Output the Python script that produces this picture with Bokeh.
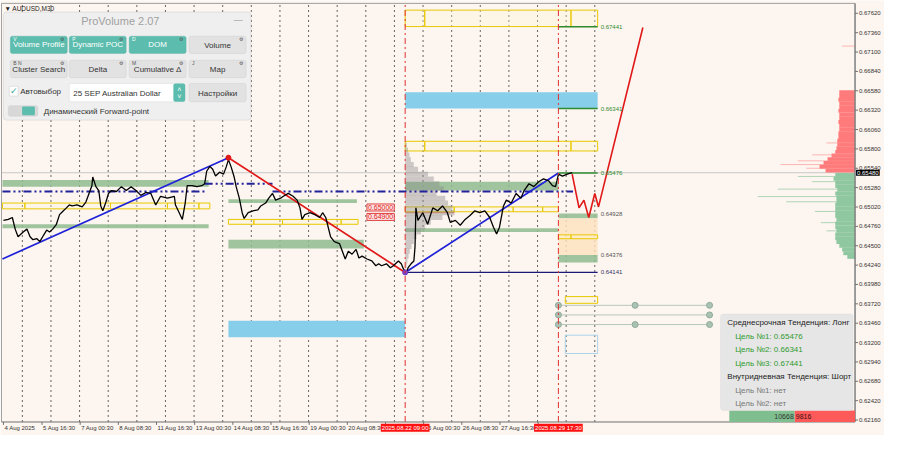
from bokeh.plotting import figure
from bokeh.models import Range1d, BoxAnnotation, Label
from bokeh.embed import file_html
from bokeh.resources import INLINE

# ====================== DATA (x = trading days since Mon 4 Aug 2025 00:00) ======================
price_day = [0.34,0.51,0.65,0.75,0.85,1.03,1.16,1.27,1.37,1.51,
             1.61,1.71,1.85,1.95,2.06,2.19,2.30,2.40,2.54,2.64,
             2.74,2.91,3.09,3.22,3.33,3.43,3.46,3.57,3.67,3.74,
             3.81,3.91,4.01,4.11,4.29,4.46,4.63,4.80,4.97,5.14,
             5.32,5.49,5.66,5.83,6.07,6.31,6.35,6.48,6.59,6.69,
             6.76,6.93,7.10,7.27,7.37,7.44,7.55,7.65,7.75,7.89,
             8.03,8.13,8.20,8.30,8.40,8.47,8.58,8.68,8.75,8.89,
             9.06,9.23,9.33,9.50,9.61,9.74,9.85,10.02,10.12,10.29,
             10.46,10.60,10.70,10.77,10.87,11.05,11.22,11.39,11.49,11.60,
             11.66,11.77,11.90,12.08,12.18,12.28,12.39,12.52,12.66,12.76,
             12.87,13.04,13.21,13.35,13.45,13.55,13.72,13.86,13.96,14.14,
             14.24,14.31,14.41,14.48,14.58,14.68,14.72,14.75,14.82,14.99,
             15.16,15.34,15.51,15.68,15.85,15.95,16.13,16.30,16.47,16.64,
             16.81,16.98,17.16,17.33,17.46,17.57,17.67,17.81,17.91,18.08,
             18.25,18.42,18.53,18.70,18.87,19.04,19.21,19.39,19.52,19.63,
             19.73,19.87,20.04,20.21]
price_close = [0.64840,0.64853,0.64879,0.64723,0.64620,0.64684,0.64723,0.64620,0.64581,0.64594,
               0.64555,0.64620,0.64710,0.64684,0.64723,0.64788,0.64918,0.64956,0.65008,0.65047,
               0.65034,0.65047,0.65021,0.65086,0.65202,0.65306,0.65423,0.65293,0.65241,0.65034,
               0.64969,0.65073,0.65202,0.65241,0.65228,0.65293,0.65241,0.65293,0.65241,0.65176,
               0.65215,0.65202,0.65047,0.65164,0.65138,0.65164,0.65047,0.64943,0.64853,0.65073,
               0.65306,0.65306,0.65293,0.65306,0.65332,0.65500,0.65565,0.65526,0.65435,0.65487,
               0.65461,0.65565,0.65656,0.65552,0.65423,0.65293,0.65138,0.64943,0.64866,0.64943,
               0.64969,0.64982,0.65034,0.65073,0.65138,0.65202,0.65112,0.65138,0.65164,0.65202,
               0.65164,0.65112,0.65008,0.64853,0.64918,0.64943,0.64918,0.64879,0.64943,0.64879,
               0.64788,0.64620,0.64555,0.64529,0.64426,0.64322,0.64426,0.64387,0.64451,0.64335,
               0.64361,0.64322,0.64296,0.64231,0.64257,0.64231,0.64257,0.64205,0.64231,0.64296,
               0.64257,0.64192,0.64141,0.64205,0.64257,0.64296,0.64490,0.65008,0.64840,0.64943,
               0.64788,0.65008,0.64969,0.65034,0.64943,0.64814,0.64840,0.64775,0.64853,0.64905,
               0.64969,0.64943,0.64969,0.64879,0.64749,0.64659,0.64749,0.65034,0.65112,0.65073,
               0.65202,0.65138,0.65241,0.65332,0.65293,0.65358,0.65397,0.65371,0.65306,0.65293,
               0.65461,0.65435,0.65461,0.65480]
last_price = 0.65480

x_tick_day = [0.34, 1.6875, 3.0208, 4.354, 5.6875, 7.0208, 8.354, 9.6875, 11.0208, 12.354,
              13.6875, 15.0208, 16.354, 17.6875, 19.0208]
x_tick_label = ["4 Aug 2025", "5 Aug 16:30", "7 Aug 00:30", "8 Aug 08:30", "11 Aug 16:30",
                "13 Aug 00:30", "14 Aug 08:30", "15 Aug 16:30", "19 Aug 00:30", "20 Aug 08:30",
                "21 Aug 16:30", "25 Aug 00:30", "26 Aug 08:30", "27 Aug 16:30", "29 Aug 00:30"]
y_tick_price = [0.62160, 0.62420, 0.62680, 0.62940, 0.63200, 0.63460, 0.63720, 0.63980, 0.64240,
                0.64500, 0.64760, 0.65020, 0.65280, 0.65540, 0.65800, 0.66060, 0.66320, 0.66580,
                0.66840, 0.67100, 0.67360, 0.67620]
day_separator = [1, 2, 3, 4, 5, 6, 7, 8, 9, 10, 11, 12, 13, 14, 15, 16, 17, 18, 19, 20, 21]

event_day = [14.375, 19.729]
event_label = ["2025.08.22 09:00", "2025.08.29 17:30"]

green_left = [0.305, 0.305, 8.20, 8.20, 14.375, 14.375, 19.73, 19.73]
green_right = [7.51, 7.51, 12.69, 12.93, 19.73, 19.73, 21.10, 21.10]
green_top = [0.65384, 0.64788, 0.65123, 0.64581, 0.65358, 0.64736, 0.64931, 0.64374]
green_bot = [0.65293, 0.64736, 0.65073, 0.64464, 0.65241, 0.64684, 0.64870, 0.64274]

peach_left, peach_right, peach_top, peach_bot = [19.73], [21.10], [0.64870], [0.64374]

blue_left = [14.375, 8.20]
blue_right = [21.10, 14.375]
blue_top = [0.66562, 0.63493]
blue_bot = [0.66342, 0.63273]

yellow_left = [0.305, 1.09, 4.08, 6.07, 7.17,
               8.20, 9.09, 10.09, 12.14,
               14.375, 16.09, 18.15, 19.18,
               14.375, 15.06, 20.17,
               14.375, 15.06, 20.17,
               19.73, 20.17,
               19.97]
yellow_right = [1.09, 4.08, 6.07, 7.17, 7.55,
                9.09, 10.09, 12.14, 12.73,
                16.09, 18.15, 19.18, 19.73,
                15.06, 20.17, 21.10,
                15.06, 20.17, 21.10,
                20.17, 21.10,
                21.10]
yellow_top = [0.65073]*5 + [0.64853]*4 + [0.65021]*4 + [0.67663]*3 + [0.65902]*3 + [0.64646]*2 + [0.63817]
yellow_bot = [0.64995]*5 + [0.64788]*4 + [0.64956]*4 + [0.67442]*3 + [0.65772]*3 + [0.64594]*2 + [0.63727]

lblue_left, lblue_right, lblue_top, lblue_bot = [19.97], [21.10], [0.63299], [0.63053]

trend_up1_day, trend_up1_price = [0.305, 8.20], [0.64322, 0.65682]
trend_dn_day, trend_dn_price = [8.20, 14.375], [0.65682, 0.64141]
trend_up2_day, trend_up2_price = [14.375, 19.73], [0.64141, 0.65476]

poc_days = [[0.305, 7.37], [7.37, 9.74], [9.74, 20.24]]
poc_prices = [[0.65228, 0.65228], [0.65332, 0.65332], [0.65228, 0.65228]]

proj_day = [20.21, 20.45, 20.62, 20.79, 21.00, 21.13, 22.68]
proj_price = [0.65461, 0.65008, 0.65112, 0.64879, 0.65202, 0.65021, 0.67430]

target_price = [0.67441, 0.66341, 0.65476, 0.64928, 0.64376, 0.64141]
target_color = ["#2e8b2e", "#2e8b2e", "#2e8b2e", "#555555", "#555555", "#333366"]
target_from, target_to = 19.73, 21.10

round_levels = [0.65000, 0.64900]
round_label_day = 13.04

circ_day = [19.73, 19.73, 19.73, 22.41, 22.41, 25.01, 25.01, 25.01]
circ_price = [0.63700, 0.63571, 0.63442, 0.63700, 0.63442, 0.63700, 0.63571, 0.63442]

vp_price = [0.65850,0.65785,0.65720,0.65656,0.65591,0.65526,0.65461,0.65397,0.65332,0.65267,
            0.65202,0.65138,0.65073,0.65008,0.64943,0.64879,0.64814,0.64749,0.64684,0.64620,
            0.64555,0.64490,0.64426,0.64361,0.64296,0.64231]
vp_size = [0.06,0.10,0.15,0.20,0.30,0.45,0.80,1.00,1.20,1.35,
           1.10,1.40,1.50,1.65,1.72,1.30,0.90,0.70,0.55,0.40,
           0.30,0.22,0.16,0.12,0.08,0.05]

dom_ask_price = [0.66560,0.66510,0.66460,0.66410,0.66360,0.66310,0.66260,0.66210,0.66160,0.66110,
                 0.66060,0.66010,0.65960,0.65910,0.65860,0.65810,0.65760,0.65710,0.65660,0.65610,
                 0.65560,0.65510]
dom_ask_size = [0.55,0.55,0.58,0.55,0.55,0.58,0.55,0.55,0.58,0.55,
                0.55,0.58,0.58,0.62,0.62,0.65,0.69,0.82,0.96,1.10,
                1.24,1.03]
dom_bid_price = [0.65450,0.65400,0.65350,0.65300,0.65250,0.65200,0.65150,0.65100,0.65050,0.65000,
                 0.64950,0.64900,0.64850,0.64800,0.64750,0.64700,0.64650,0.64600,0.64550,0.64500,
                 0.64450,0.64400,0.64350]
dom_bid_size = [0.69,0.75,0.69,0.69,0.62,0.69,0.65,0.65,0.69,0.69,
                0.69,0.69,0.65,0.69,0.69,0.65,0.69,0.69,0.65,0.55,
                0.45,0.41,0.27]
dom_ask_thin_price = [0.65880, 0.65720, 0.65640, 0.65590, 0.65540, 0.67180]
dom_ask_thin_len = [1.0, 1.5, 2.0, 2.6, 1.7, 0.45]
dom_bid_thin_price = [0.65430, 0.65360, 0.65260, 0.65160, 0.65090, 0.64960, 0.64810, 0.64700]
dom_bid_thin_len = [2.0, 1.5, 2.7, 3.4, 2.4, 1.4, 1.2, 1.0]

vol_buy, vol_sell = 10668, 9816


# ---------- mapping of the reference screen layout (used for overlays / frame only) ----------
def X(px):
    return (px + 6.9) / 29.14


def Y(py):
    return 0.67792 - 0.00012948 * py


BG = "#fdf5ef"
FONT = "Liberation Sans"
CH_L, CH_R, CH_T, CH_B = X(1), X(870), Y(3), Y(437)   # chart area inside the canvas

p = figure(width=884, height=435, output_backend="svg", toolbar_location=None,
           x_range=Range1d(X(0), X(900)), y_range=Range1d(Y(451), Y(0)),
           x_axis_location=None, y_axis_location=None,
           min_border_left=0, min_border_top=0, min_border_right=0, min_border_bottom=0,
           background_fill_color=BG, border_fill_color=BG)
p.outline_line_color = None
p.grid.visible = False

# day separators (dotted)
p.segment(x0=day_separator, y0=CH_B, x1=day_separator, y1=CH_T,
          line_color="#333333", line_alpha=0.75, line_dash="2 3", line_width=1)
# current price line
p.segment(x0=[CH_L], y0=[last_price], x1=[CH_R], y1=[last_price], line_color="#c8c8c8", line_width=1)

# zones
p.quad(left=green_left, right=green_right, top=green_top, bottom=green_bot,
       fill_color="#8fbc8f", fill_alpha=0.85, line_color=None)
p.quad(left=peach_left, right=peach_right, top=peach_top, bottom=peach_bot,
       fill_color="#fde2bd", fill_alpha=0.8, line_color=None)
p.quad(left=blue_left, right=blue_right, top=blue_top, bottom=blue_bot,
       fill_color="#87ceeb", fill_alpha=1.0, line_color=None)
p.quad(left=yellow_left, right=yellow_right, top=yellow_top, bottom=yellow_bot,
       fill_color="#fff8d0", fill_alpha=0.3, line_color="#e8c800", line_width=1)
p.quad(left=lblue_left, right=lblue_right, top=lblue_top, bottom=lblue_bot,
       fill_color=None, line_color="#a8d4ec", line_width=1)

# volume profile (gray) anchored on the event line
vp_anchor = event_day[0]
p.hbar(y=vp_price, left=vp_anchor, right=[vp_anchor + s for s in vp_size], height=0.00066,
       fill_color="#8a8a8a", fill_alpha=0.42, line_color=None)
poc_i = vp_size.index(max(vp_size))
p.segment(x0=[vp_anchor], y0=[vp_price[poc_i]], x1=[vp_anchor + vp_size[poc_i]], y1=[vp_price[poc_i]],
          line_color="#c06a4a", line_alpha=0.7, line_width=1)

# DOM on the right edge
p.hbar(y=dom_ask_price, left=[CH_R - s for s in dom_ask_size], right=CH_R, height=0.00053,
       fill_color="#ff7b7b", line_color=None)
p.hbar(y=dom_bid_price, left=[CH_R - s for s in dom_bid_size], right=CH_R, height=0.00053,
       fill_color="#8fc7a0", line_color=None)
p.segment(x0=[CH_R - l for l in dom_ask_thin_len], y0=dom_ask_thin_price, x1=CH_R, y1=dom_ask_thin_price,
          line_color="#ff8c8c", line_alpha=0.6, line_width=1)
p.segment(x0=[CH_R - l for l in dom_bid_thin_len], y0=dom_bid_thin_price, x1=CH_R, y1=dom_bid_thin_price,
          line_color="#8fc7a0", line_alpha=0.7, line_width=1)

# circles
for lv in sorted(set(circ_price)):
    p.line([min(circ_day), max(circ_day)], [lv, lv], line_color="#b8c8bc", line_width=1)
p.scatter(circ_day, circ_price, size=6, fill_color="#a9c2b3", line_color="#8fab9b")

# POC dash-dot
p.multi_line(poc_days, poc_prices, line_color="#22229a", line_width=2.2, line_dash="8 3 2 3 2 3")

# target lines
p.segment(x0=[target_from]*3, y0=target_price[:3], x1=[target_to]*3, y1=target_price[:3],
          line_color="#2e8b2e", line_width=1.5)
p.line([event_day[0], target_to], [target_price[5], target_price[5]], line_color="#1a1a7a", line_width=1.3)

# trend lines
p.line(trend_up1_day, trend_up1_price, line_color="#1f22d8", line_width=1.7)
p.line(trend_dn_day, trend_dn_price, line_color="#e01818", line_width=1.7)
p.line(trend_up2_day, trend_up2_price, line_color="#1f22d8", line_width=1.7)

# price
p.line(price_day, price_close, line_color="black", line_width=1.3)

p.scatter([trend_dn_day[0]], [trend_dn_price[0]], size=5, color="#e01818")
p.scatter([trend_dn_day[1]], [trend_dn_price[1]], size=5, color="#7a3fc0")

# projection
p.line(proj_day, proj_price, line_color="#e01818", line_width=1.6)

# event lines
p.segment(x0=event_day, y0=CH_B, x1=event_day, y1=CH_T, line_color="#e03030", line_width=1,
          line_dash="6 3 2 3")

# chart border / axes
p.line([CH_L, CH_L, CH_R, CH_R], [CH_B, CH_T, CH_T, CH_B], line_color="#a0a0a0", line_width=1)
p.line([CH_L, CH_R], [CH_B, CH_B], line_color="#707070", line_width=1)
p.line([CH_R, CH_R], [CH_B, CH_T], line_color="#707070", line_width=1)
p.segment(x0=CH_R, y0=y_tick_price, x1=X(873), y1=y_tick_price, line_color="#707070", line_width=1)
p.segment(x0=x_tick_day, y0=CH_B, x1=x_tick_day, y1=Y(440), line_color="#707070", line_width=1)


def add_label(x, y, text, size="8px", color="#222222", align="left", baseline="middle",
              bg=None, border=None, pad=0, x_offset=0, y_offset=0, style="normal"):
    lab = Label(x=x, y=y, text=text, text_font=FONT, text_font_size=size, text_color=color,
                text_align=align, text_baseline=baseline, x_offset=x_offset, y_offset=y_offset,
                text_font_style=style)
    if bg is not None:
        lab.background_fill_color = bg
    if border is not None:
        lab.border_line_color = border
    if pad:
        lab.padding = pad
    p.add_layout(lab)


def add_box(x0, y0, x1, y1, fill, line=None, radius=0, alpha=1.0):
    p.add_layout(BoxAnnotation(left=X(x0), right=X(x1), top=Y(y0), bottom=Y(y1),
                               fill_color=fill, fill_alpha=alpha, line_color=line,
                               line_width=1, border_radius=radius))


# axis labels
for tp in y_tick_price:
    add_label(X(874), tp, f"{tp:.5f}", size="6px", color="#333333")
for d, t in zip(x_tick_day, x_tick_label):
    add_label(d, Y(443), t, size="6px", color="#333333", x_offset=1)
for d, t in zip(event_day, event_label):
    add_label(d, Y(443), t, size="6px", color="white", align="center", bg="#ff1010", pad=1)
add_label(X(871), last_price, f"{last_price:.5f}", size="6px", color="white", bg="black", pad=1)

# target labels
for tp, tc in zip(target_price, target_color):
    add_label(target_to, tp, f"{tp:.5f}", size="6px", color=tc, x_offset=3)

# round level labels
for lv, off in zip(round_levels, [1, -1]):
    add_label(round_label_day, lv, f"{lv:.5f}", size="7px", color="#e02020", bg="#fde4e4",
              border="#e04040", pad=1, y_offset=off)

# title
add_label(X(4), Y(8), "▼ AUDUSD,M30", size="6.5px", color="#222222")

# ---------- ProVolume panel ----------
add_box(3, 12, 255, 124, "#efefef", "#b5b5b5", radius=3)
add_label(X(122), Y(21), "ProVolume 2.07", size="11px", color="#a0a0a0", align="center")
add_label(X(242), Y(20), "—", size="9px", color="#909090", align="center")
buttons = [
    ("Volume Profile", 10, 37, True, "V"), ("Dynamic POC", 70, 37, True, "P"),
    ("DOM", 131, 37, True, "D"), ("Volume", 192, 37, False, ""),
    ("Cluster Search", 10, 62, False, "B N"), ("Delta", 70, 62, False, ""),
    ("Cumulative Δ", 131, 62, False, "M"), ("Map", 192, 62, False, "J"),
]
for txt, bx, by, on, tag in buttons:
    if on:
        add_box(bx, by, bx + 58, by + 18, "#5cbdae", "#4aa89a", radius=2)
        add_label(X(bx + 29), Y(by + 9), txt, size="8px", color="white", align="center")
    else:
        add_box(bx, by, bx + 58, by + 18, "#e2e2e2", "#c4c4c4", radius=2)
        add_label(X(bx + 29), Y(by + 9.5), txt, size="8px", color="#333333", align="center")
    if tag:
        add_label(X(bx + 3), Y(by + 2.5), tag, size="5px",
                  color="white" if on else "#555555")
    add_label(X(bx + 55), Y(by + 2.5), "⚙", size="5px", color="#555555", align="right")

add_box(9, 89, 18, 99, "white", "#b0b0b0")
add_label(X(9.5), Y(94), "✓", size="9px", color="#3aa898")
add_label(X(20), Y(94), "Автовыбор", size="8px", color="#333333")
add_box(70, 86, 188, 105, "white", "#c8c8c8", radius=2)
add_label(X(74), Y(96), "25 SEP Australian Dollar", size="8px", color="#333333")
add_box(176, 86, 188, 105, "#5cbdae", None, radius=2)
add_label(X(182), Y(92), "˄", size="7px", color="white", align="center")
add_label(X(182), Y(100), "˅", size="7px", color="white", align="center")
add_box(192, 86, 250, 105, "#e2e2e2", "#c4c4c4", radius=2)
add_label(X(221), Y(96), "Настройки", size="8px", color="#333333", align="center")
add_box(8, 109, 38, 120, "#d8d8d8", "#c4c4c4", radius=2)
add_box(22, 110, 35, 119, "#5cbdae", None, radius=1)
add_label(X(44), Y(115), "Динамический Forward-point", size="8px", color="#333333")

# ---------- info panel ----------
add_box(733, 325, 868, 425, "#e6e6e6", "#d4d4d4", radius=3)
info_lines = [
    ("Среднесрочная Тенденция: Лонг", "#222222", 740),
    (f"Цель №1: {target_price[2]:.5f}", "#2e9a2e", 748),
    (f"Цель №2: {target_price[1]:.5f}", "#2e9a2e", 748),
    (f"Цель №3: {target_price[0]:.5f}", "#2e9a2e", 748),
    ("Внутридневная Тенденция: Шорт", "#222222", 740),
    ("Цель №1: нет", "#777777", 748),
    ("Цель №2: нет", "#777777", 748),
]
for i, (txt, col, lx) in enumerate(info_lines):
    add_label(X(lx), Y(334 + 14 * i), txt, size="8px", color=col)

# buy / sell volume bar
bar_left, bar_top = X(742), Y(425)
split = bar_left + (CH_R - bar_left) * vol_buy / (vol_buy + vol_sell)
p.quad(left=[bar_left, split], right=[split, CH_R], top=[bar_top, bar_top], bottom=[CH_B, CH_B],
       fill_color=["#7fbf8f", "#ff5a5a"], line_color=None)
add_label(split, (bar_top + CH_B) / 2, str(vol_buy), size="7px", color="#333333", align="right", x_offset=-1)
add_label(split, (bar_top + CH_B) / 2, str(vol_sell), size="7px", color="#3a1010", x_offset=1)

open("out.html", "w").write(file_html(p, INLINE))
